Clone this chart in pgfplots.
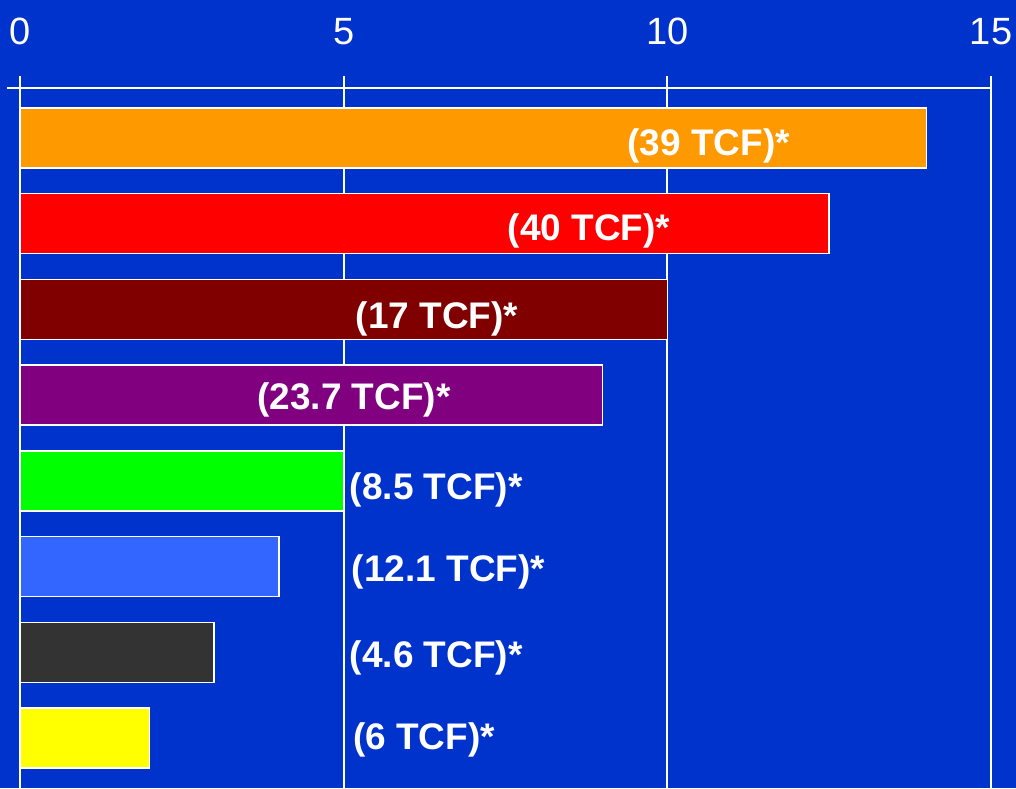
\documentclass[border=0pt]{standalone}
\usepackage{fontspec}
\setmainfont{Liberation Sans}
\usepackage{pgfplots}
\pgfplotsset{compat=1.18}
\definecolor{bg}{HTML}{0033CC}
\definecolor{c1}{HTML}{FF9900}
\definecolor{c2}{HTML}{FF0000}
\definecolor{c3}{HTML}{800000}
\definecolor{c4}{HTML}{800080}
\definecolor{c5}{HTML}{00FF00}
\definecolor{c6}{HTML}{3366FF}
\definecolor{c7}{HTML}{333333}
\definecolor{c8}{HTML}{FFFF00}
\begin{document}
\begin{tikzpicture}
\fill[bg] (-10pt,0pt) rectangle (498pt,394pt);
\begin{axis}[
  at={(0,0)}, anchor=south west,
  scale only axis, width=485.5pt, height=350pt,
  xmin=0, xmax=15, ymin=-0.583, ymax=7.583, y dir=reverse,
  xbar, bar width=0.7, bar shift=0pt,
  axis x line*=top, axis y line=none,
  xtick={0,5,10,15}, ytick=\empty,
  xmajorgrids, grid style={white, line width=1pt},
  axis line style={white, line width=1pt, -},
  x tick style={white, line width=1pt}, tick align=outside, major tick length=6pt,
  xticklabel style={font=\fontsize{19}{23}\selectfont, text=white, yshift=12pt},
  /pgf/number format/assume math mode=true,
  clip=false,
  every axis plot/.append style={draw=white, line width=0.75pt},
]
\addplot[fill=c1] coordinates {(14,0)};
\addplot[fill=c2] coordinates {(12.5,1)};
\addplot[fill=c3] coordinates {(10,2)};
\addplot[fill=c4] coordinates {(9,3)};
\addplot[fill=c5] coordinates {(5,4)};
\addplot[fill=c6] coordinates {(4,5)};
\addplot[fill=c7] coordinates {(3,6)};
\addplot[fill=c8] coordinates {(2,7)};
\draw[white, line width=1pt] (axis cs:-0.2,-0.583) -- (axis cs:0,-0.583);
\begin{scope}[every node/.style={text=white, font=\fontsize{18.5}{22}\selectfont\bfseries, inner sep=0pt}]
\node[anchor=center] at (axis cs:10.64,0.09) {(39 TCF)*};
\node[anchor=center] at (axis cs:8.79,1.08) {(40 TCF)*};
\node[anchor=center] at (axis cs:6.44,2.11) {(17 TCF)*};
\node[anchor=center] at (axis cs:5.16,3.05) {(23.7 TCF)*};
\node[anchor=west] at (axis cs:5.09,4.11) {(8.5 TCF)*};
\node[anchor=west] at (axis cs:5.12,5.06) {(12.1 TCF)*};
\node[anchor=west] at (axis cs:5.09,6.07) {(4.6 TCF)*};
\node[anchor=west] at (axis cs:5.14,7.02) {(6 TCF)*};
\end{scope}
\end{axis}
\pgfresetboundingbox
\path (-10pt,0pt) rectangle (498pt,394pt);
\end{tikzpicture}
\end{document}
